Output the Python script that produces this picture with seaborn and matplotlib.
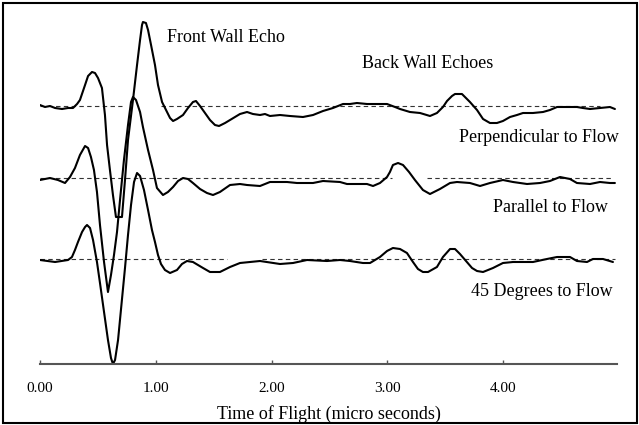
import numpy as np
import pandas as pd
import matplotlib
matplotlib.use("Agg")
import matplotlib.pyplot as plt
import matplotlib.patches as mpatches
import seaborn as sns

# ---------------- data ----------------
# Time of flight (micro seconds) and echo amplitude relative to each trace's own baseline
perp_t = [0.000, 0.043, 0.086, 0.130, 0.190, 0.242, 0.285, 0.320, 0.345, 0.389, 0.415, 0.449,
          0.475, 0.501, 0.535, 0.561, 0.579, 0.604, 0.630, 0.656, 0.708, 0.734, 0.760, 0.803,
          0.838, 0.864, 0.881, 0.889, 0.915, 0.933, 0.959, 0.993, 1.019, 1.054, 1.097, 1.123,
          1.149, 1.183, 1.235, 1.278, 1.321, 1.347, 1.382, 1.425, 1.468, 1.511, 1.546, 1.598,
          1.641, 1.727, 1.788, 1.839, 1.900, 1.943, 1.986, 2.073, 2.159, 2.271, 2.358, 2.444,
          2.530, 2.617, 2.677, 2.737, 2.824, 2.910, 2.997, 3.066, 3.109, 3.195, 3.282, 3.368,
          3.428, 3.480, 3.515, 3.558, 3.584, 3.644, 3.670, 3.713, 3.774, 3.826, 3.886, 3.946,
          3.998, 4.059, 4.119, 4.171, 4.257, 4.344, 4.404, 4.465, 4.551, 4.637, 4.689, 4.750,
          4.836, 4.922, 4.965]
perp_amp = [1, -1, 0, -2, -3, -2, -2, 2, 6, 21, 30, 34,
            33, 28, 18, -9, -39, -64, -89, -111, -111, -74, -34, 6,
            41, 66, 81, 84, 83, 76, 61, 41, 21, 4, -6, -12,
            -15, -13, -9, -2, 4, 5, 0, -7, -14, -19, -20, -17,
            -14, -8, -6, -8, -9, -8, -10, -9, -10, -11, -9, -5,
            -2, 2, 2, 3, 2, 2, 2, -1, -3, -6, -7, -10,
            -7, -1, 5, 10, 12, 12, 9, 4, -4, -13, -17, -17,
            -15, -11, -9, -7, -7, -6, -4, -1, -1, -1, -2, -3,
            -2, -1, -3]

par_t = [0.000, 0.086, 0.155, 0.216, 0.259, 0.302, 0.345, 0.389, 0.415, 0.440, 0.466, 0.492,
         0.518, 0.553, 0.587, 0.613, 0.639, 0.665, 0.691, 0.725, 0.760, 0.786, 0.803, 0.829,
         0.864, 0.889, 0.933, 0.976, 1.010, 1.062, 1.105, 1.149, 1.192, 1.235, 1.278, 1.321,
         1.382, 1.442, 1.494, 1.554, 1.641, 1.727, 1.788, 1.900, 1.986, 2.133, 2.219, 2.358,
         2.444, 2.591, 2.651, 2.824, 2.876, 2.936, 2.997, 3.022, 3.048, 3.092, 3.135, 3.187,
         3.238, 3.307, 3.368, 3.454, 3.541, 3.601, 3.713, 3.800, 3.886, 3.998, 4.085, 4.206,
         4.318, 4.404, 4.491, 4.577, 4.637, 4.750, 4.836, 4.922, 4.965]
par_amp = [-2, 0, -2, -5, 1, 10, 23, 32, 30, 21, 8, -14,
           -47, -84, -114, -97, -77, -54, -22, 18, 53, 76, 81, 78,
           66, 51, 28, 8, -10, -17, -14, -9, -3, 0, -1, -5,
           -11, -15, -17, -14, -7, -6, -7, -8, -4, -4, -5, -5,
           -3, -4, -6, -6, -8, -5, 1, 6, 13, 15, 13, 6,
           -2, -12, -16, -11, -5, -4, -5, -8, -5, -2, -4, -6,
           -5, -3, 1, -1, -5, -6, -4, -5, -5]

deg45_t = [0.000, 0.130, 0.242, 0.276, 0.302, 0.328, 0.363, 0.389, 0.406, 0.432, 0.458, 0.492,
           0.518, 0.553, 0.587, 0.613, 0.630, 0.648, 0.674, 0.699, 0.734, 0.760, 0.786, 0.812,
           0.838, 0.864, 0.898, 0.933, 0.967, 0.993, 1.019, 1.045, 1.079, 1.123, 1.183, 1.226,
           1.269, 1.321, 1.408, 1.468, 1.554, 1.641, 1.727, 1.900, 2.073, 2.185, 2.306, 2.478,
           2.591, 2.677, 2.789, 2.850, 2.936, 2.997, 3.048, 3.109, 3.169, 3.221, 3.264, 3.307,
           3.351, 3.428, 3.480, 3.541, 3.584, 3.627, 3.679, 3.731, 3.774, 3.826, 3.912, 3.998,
           4.085, 4.257, 4.378, 4.465, 4.577, 4.637, 4.724, 4.775, 4.862, 4.948]
deg45_amp = [-1, -3, -1, 2, 9, 17, 27, 32, 34, 31, 19, -3,
             -24, -53, -81, -99, -105, -101, -81, -51, -9, 24, 54, 77,
             86, 83, 69, 49, 29, 17, 4, -5, -11, -14, -11, -5,
             -2, -3, -9, -13, -13, -8, -4, -2, -5, -4, -1, -2,
             -1, -2, -4, -4, 2, 8, 11, 10, 6, -3, -10, -13,
             -13, -8, 2, 10, 10, 5, -2, -9, -12, -13, -9, -4,
             -3, -3, 0, 2, 2, -2, -3, 0, 0, -3]

series_names = ["Perpendicular to Flow", "Parallel to Flow", "45 Degrees to Flow"]
baseline_levels = [258, 186, 105]
# dashed reference (zero) line extents per trace, micro seconds
ref_segments = [[(0.0, 0.708), (1.045, 4.836)],
                [(0.0, 3.040), (3.342, 4.940)],
                [(0.0, 1.615), (1.917, 4.965)]]
tick_values = [0, 1, 2, 3, 4]
tick_labels = ["0.00", "1.00", "2.00", "3.00", "4.00"]

# ---------------- figure ----------------
sns.set_style("white")
plt.rcParams["font.family"] = ["Liberation Serif", "DejaVu Serif"]

fig = plt.figure(figsize=(6.39, 4.25), dpi=100)
ax = fig.add_axes([40 / 639, 61 / 425, 577 / 639, 346 / 425])

traces = [(perp_t, perp_amp), (par_t, par_amp), (deg45_t, deg45_amp)]
frames = []
for name, base, (t, a) in zip(series_names, baseline_levels, traces):
    frames.append(pd.DataFrame({"t": t, "y": np.asarray(a) + base, "trace": name}))
df = pd.concat(frames, ignore_index=True)

for base, segs in zip(baseline_levels, ref_segments):
    for (t0, t1) in segs:
        ax.plot([t0, t1], [base, base], color="#333333", lw=0.8,
                linestyle=(0, (4, 3)), zorder=1)

sns.lineplot(data=df, x="t", y="y", units="trace", estimator=None, sort=False,
             color="black", lw=1.5, ax=ax, legend=False, zorder=2)

ax.set_xlim(0, 4.983)
ax.set_ylim(0, 346)
for s in ["left", "top", "right"]:
    ax.spines[s].set_visible(False)
ax.spines["bottom"].set_color("#555555")
ax.spines["bottom"].set_linewidth(1.5)
ax.set_yticks([])
ax.set_xticks(tick_values)
ax.set_xticklabels(tick_labels, fontsize=11, color="black")
ax.tick_params(axis="x", direction="in", length=3, width=1, color="#555555", pad=13,
               bottom=True)
ax.set_xlabel("Time of Flight (micro seconds)", fontsize=13, labelpad=7, color="black")
ax.set_ylabel("")

text_kw = dict(fontsize=13, ha="left", va="center", color="black")
ax.text(1.097, 327, "Front Wall Echo", **text_kw)
ax.text(2.781, 301, "Back Wall Echoes", **text_kw)
ax.text(3.618, 226, "Perpendicular to Flow", **text_kw)
ax.text(3.912, 157, "Parallel to Flow", **text_kw)
ax.text(3.722, 73, "45 Degrees to Flow", **text_kw)

fig.patches.append(mpatches.Rectangle((2.5 / 639, 2.5 / 425), 634 / 639, 420 / 425,
                                      transform=fig.transFigure, fill=False,
                                      edgecolor="black", lw=1.5))

fig.savefig("out.png", dpi=100)
